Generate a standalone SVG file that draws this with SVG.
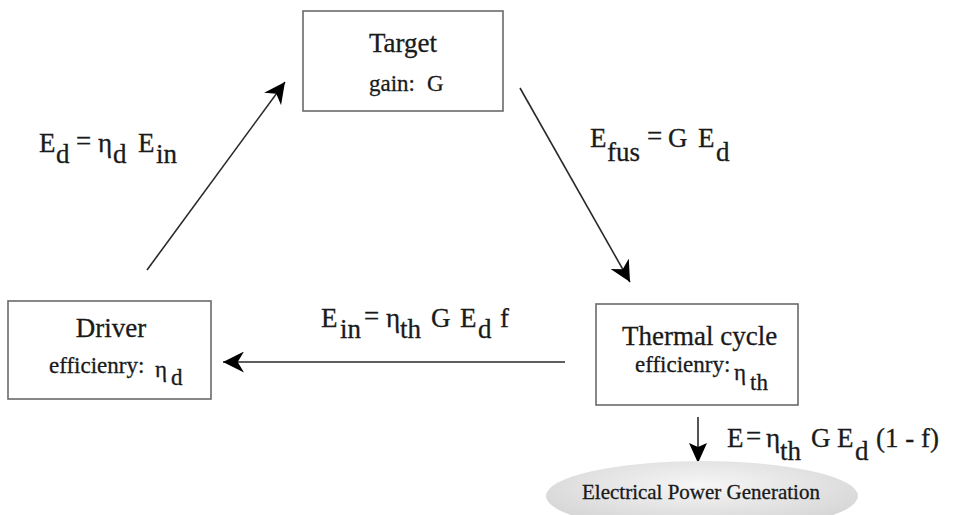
<svg xmlns="http://www.w3.org/2000/svg" width="954" height="515" viewBox="0 0 954 515">
<style>
text{font-family:"Liberation Serif","Times New Roman",serif;fill:#1a1a1a;stroke:#1a1a1a;stroke-width:0.3}
.box{fill:#fff;stroke:#6a6a6a;stroke-width:1.6}
.title{font-size:27px}
.sub{font-size:23px}
.eq{font-size:27px}
.conn{stroke:#2a2a2a;stroke-width:1.6;fill:none}
</style>
<defs>
<marker id="ah" viewBox="0 0 20 20" refX="20" refY="10" markerWidth="21" markerHeight="21" markerUnits="userSpaceOnUse" orient="auto">
<path d="M0,0 L20,10 L0,20 L6,10 z" fill="#000"/>
</marker>
<marker id="ahd" viewBox="0 0 20 20" refX="20" refY="10" markerWidth="20" markerHeight="20" markerUnits="userSpaceOnUse" orient="auto">
<path d="M0,1 L20,10 L0,19 L4,10 z" fill="#000"/>
</marker>
<radialGradient id="eg" cx="50%" cy="35%" r="60%">
<stop offset="0" stop-color="#f6f6f6"/>
<stop offset="1" stop-color="#d6d6d6"/>
</radialGradient>
</defs>

<g id="connectors">
<line class="conn" x1="147" y1="270" x2="285" y2="82" marker-end="url(#ah)"/>
<line class="conn" x1="520" y1="88" x2="630" y2="282" marker-end="url(#ah)"/>
<line class="conn" x1="565" y1="362" x2="223" y2="362" stroke="#555" stroke-width="2" marker-end="url(#ah)"/>
<line class="conn" x1="698" y1="417" x2="698" y2="463" marker-end="url(#ahd)"/>
</g>

<g id="target">
<rect class="box" x="303" y="11" width="200" height="100"/>
<text class="title" x="403" y="52" text-anchor="middle">Target</text>
<text class="sub" x="369" y="91">gain:</text>
<text class="sub" x="427" y="91">G</text>
</g>

<g id="driver">
<rect class="box" x="8" y="301" width="203" height="98"/>
<text class="title" x="111" y="337" text-anchor="middle">Driver</text>
<text class="sub" x="49" y="373">efficienry:</text>
<text class="sub" x="155" y="377">η</text>
<text class="sub" x="171" y="385">d</text>
</g>

<g id="thermal">
<rect class="box" x="596" y="304" width="202" height="101"/>
<text class="title" x="622" y="345">Thermal cycle</text>
<text class="sub" x="635" y="372" font-size="21">efficienry:</text>
<text class="sub" x="734" y="380">η</text>
<text class="sub" x="750" y="390">th</text>
</g>

<g id="power">
<ellipse cx="702" cy="496" rx="156" ry="35" fill="url(#eg)"/>
<text x="582" y="499" font-size="21">Electrical Power Generation</text>
</g>

<g id="labels">
<text class="eq" y="152"><tspan x="39">E</tspan><tspan x="56" y="163">d</tspan><tspan x="76" y="150">=</tspan><tspan x="98" y="152">η</tspan><tspan x="113" y="163">d</tspan><tspan x="138" y="152">E</tspan><tspan x="156" y="163">in</tspan></text>
<text class="eq" y="147"><tspan x="590">E</tspan><tspan x="607" y="161">fus</tspan><tspan x="647" y="145">=</tspan><tspan x="668" y="147">G</tspan><tspan x="698" y="147">E</tspan><tspan x="716" y="161">d</tspan></text>
<text class="eq" y="327"><tspan x="321">E</tspan><tspan x="340" y="338">in</tspan><tspan x="364" y="325">=</tspan><tspan x="386" y="327">η</tspan><tspan x="400" y="338">th</tspan><tspan x="431" y="327">G</tspan><tspan x="460" y="327">E</tspan><tspan x="478" y="338">d</tspan><tspan x="500" y="327">f</tspan></text>
<text class="eq" y="447"><tspan x="727">E</tspan><tspan x="746" y="445">=</tspan><tspan x="766" y="447">η</tspan><tspan x="780" y="460">th</tspan><tspan x="811" y="447">G</tspan><tspan x="837" y="447">E</tspan><tspan x="855" y="460">d</tspan><tspan x="876" y="447">(1 - f)</tspan></text>
</g>
</svg>
